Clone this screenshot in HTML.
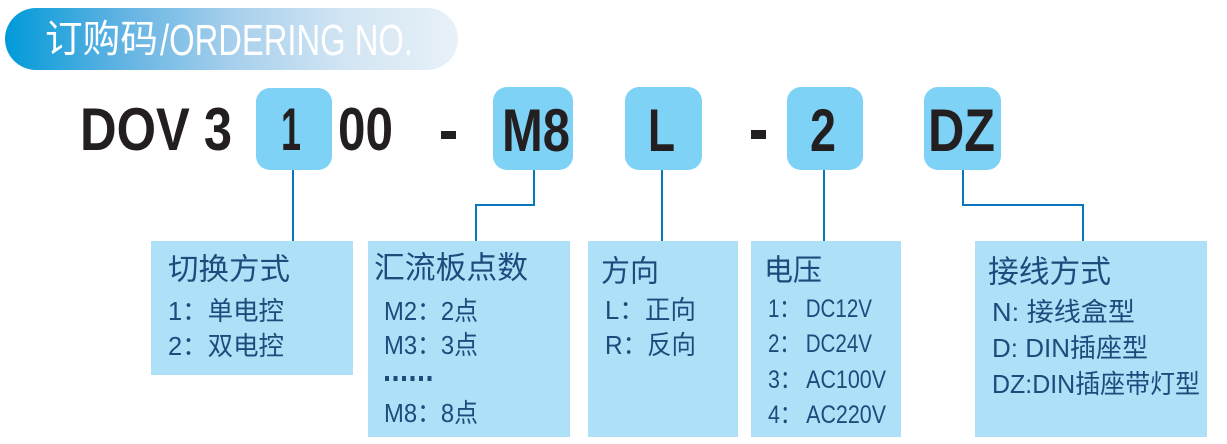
<!DOCTYPE html>
<html>
<head>
<meta charset="utf-8">
<style>
html,body{margin:0;padding:0;background:#fff;}
svg{display:block;}
.cn{font-family:"Liberation Sans","Noto Sans CJK SC",sans-serif;}
.big{font-family:"Liberation Sans",sans-serif;font-weight:bold;fill:#231f20;}
.lt{font-family:"Liberation Sans","Noto Sans CJK SC",sans-serif;fill:#1c4c7c;}
</style>
</head>
<body>
<svg width="1227" height="444" viewBox="0 0 1227 444" xmlns="http://www.w3.org/2000/svg">
<defs>
<linearGradient id="pg" x1="0" y1="0" x2="1" y2="0">
<stop offset="0" stop-color="#009ad9"/>
<stop offset="0.25" stop-color="#5fb2e2"/>
<stop offset="0.5" stop-color="#a6cfec"/>
<stop offset="0.75" stop-color="#d2e5f3"/>
<stop offset="1" stop-color="#e8f1f8"/>
</linearGradient>
</defs>

<!-- header pill -->
<rect x="5" y="8" width="453" height="62" rx="31" ry="31" fill="url(#pg)"/>
<text class="cn" x="45" y="40" font-size="38" fill="#fff" dominant-baseline="central" textLength="113" lengthAdjust="spacingAndGlyphs">订购码</text>
<text x="160" y="55" font-family="Liberation Sans, sans-serif" font-size="44" fill="#fff" textLength="253" lengthAdjust="spacingAndGlyphs">/ORDERING NO.</text>

<!-- top code boxes -->
<g fill="#7dd2f5">
<rect x="256" y="88" width="76" height="82" rx="14"/>
<rect x="493" y="87" width="80" height="83" rx="14"/>
<rect x="625" y="87" width="77" height="83" rx="14"/>
<rect x="787" y="87" width="76" height="83" rx="14"/>
<rect x="924" y="87" width="77" height="83" rx="14"/>
</g>

<!-- main code text -->
<text class="big" x="80" y="150" font-size="60" textLength="152" lengthAdjust="spacingAndGlyphs">DOV 3</text>
<text class="big" x="281" y="150" font-size="60" textLength="20" lengthAdjust="spacingAndGlyphs">1</text>
<text class="big" x="338" y="150" font-size="60" textLength="55" lengthAdjust="spacingAndGlyphs">00</text>
<rect x="441" y="131" width="15" height="8" fill="#231f20"/>
<text class="big" x="502" y="151" font-size="60" textLength="68" lengthAdjust="spacingAndGlyphs">M8</text>
<text class="big" x="648" y="151" font-size="60" textLength="27" lengthAdjust="spacingAndGlyphs">L</text>
<rect x="751" y="130" width="15" height="9" fill="#231f20"/>
<text class="big" x="810" y="151" font-size="60" textLength="26" lengthAdjust="spacingAndGlyphs">2</text>
<text class="big" x="928" y="151" font-size="60" textLength="67" lengthAdjust="spacingAndGlyphs">DZ</text>

<!-- connectors -->
<g stroke="#0a78c0" stroke-width="2" fill="none">
<line x1="293" y1="170" x2="293" y2="241"/>
<polyline points="534,170 534,205 476,205 476,241"/>
<line x1="662" y1="170" x2="662" y2="241"/>
<line x1="824" y1="170" x2="824" y2="241"/>
<polyline points="963,170 963,205 1083,205 1083,241"/>
</g>

<!-- lower boxes -->
<g fill="#aee1f7">
<rect x="151" y="241" width="202" height="134"/>
<rect x="368" y="241" width="202" height="196"/>
<rect x="588" y="241" width="150" height="196"/>
<rect x="751" y="241" width="150" height="196"/>
<rect x="975" y="241" width="232" height="196"/>
</g>

<!-- box1 -->
<text class="lt" x="168" y="270" font-size="30" dominant-baseline="central" textLength="122" lengthAdjust="spacingAndGlyphs">切换方式</text>
<text class="lt" x="168" y="311" font-size="26" dominant-baseline="central" textLength="116" lengthAdjust="spacingAndGlyphs">1：单电控</text>
<text class="lt" x="168" y="346" font-size="26" dominant-baseline="central" textLength="116" lengthAdjust="spacingAndGlyphs">2：双电控</text>

<!-- box2 -->
<text class="lt" x="374" y="268" font-size="31" dominant-baseline="central" textLength="154" lengthAdjust="spacingAndGlyphs">汇流板点数</text>
<text class="lt" x="384" y="311" font-size="26" dominant-baseline="central" textLength="94" lengthAdjust="spacingAndGlyphs">M2：2点</text>
<text class="lt" x="384" y="345" font-size="26" dominant-baseline="central" textLength="94" lengthAdjust="spacingAndGlyphs">M3：3点</text>
<g fill="#1c4c7c">
<rect x="385" y="376" width="4" height="5"/>
<rect x="393.5" y="376" width="4" height="5"/>
<rect x="402" y="376" width="4" height="5"/>
<rect x="410.5" y="376" width="4" height="5"/>
<rect x="419" y="376" width="4" height="5"/>
<rect x="427.5" y="376" width="4" height="5"/>
</g>
<text class="lt" x="384" y="413" font-size="26" dominant-baseline="central" textLength="94" lengthAdjust="spacingAndGlyphs">M8：8点</text>

<!-- box3 -->
<text class="lt" x="601" y="272" font-size="30" dominant-baseline="central" textLength="58" lengthAdjust="spacingAndGlyphs">方向</text>
<text class="lt" x="605" y="310" font-size="26" dominant-baseline="central" textLength="91" lengthAdjust="spacingAndGlyphs">L：正向</text>
<text class="lt" x="605" y="345" font-size="26" dominant-baseline="central" textLength="91" lengthAdjust="spacingAndGlyphs">R：反向</text>

<!-- box4 -->
<text class="lt" x="764" y="271" font-size="30" dominant-baseline="central" textLength="58" lengthAdjust="spacingAndGlyphs">电压</text>
<text class="lt" x="768" y="309" font-size="25" dominant-baseline="central" textLength="104" lengthAdjust="spacingAndGlyphs">1： DC12V</text>
<text class="lt" x="768" y="344" font-size="25" dominant-baseline="central" textLength="104" lengthAdjust="spacingAndGlyphs">2： DC24V</text>
<text class="lt" x="768" y="380" font-size="25" dominant-baseline="central" textLength="118" lengthAdjust="spacingAndGlyphs">3： AC100V</text>
<text class="lt" x="768" y="415" font-size="25" dominant-baseline="central" textLength="118" lengthAdjust="spacingAndGlyphs">4： AC220V</text>

<!-- box5 -->
<text class="lt" x="988" y="272" font-size="31" dominant-baseline="central" textLength="123" lengthAdjust="spacingAndGlyphs">接线方式</text>
<text class="lt" x="992" y="312" font-size="26" dominant-baseline="central" textLength="143" lengthAdjust="spacingAndGlyphs">N: 接线盒型</text>
<text class="lt" x="992" y="348" font-size="26" dominant-baseline="central" textLength="156" lengthAdjust="spacingAndGlyphs">D: DIN插座型</text>
<text class="lt" x="992" y="384" font-size="26" dominant-baseline="central" textLength="208" lengthAdjust="spacingAndGlyphs">DZ:DIN插座带灯型</text>
</svg>
</body>
</html>
